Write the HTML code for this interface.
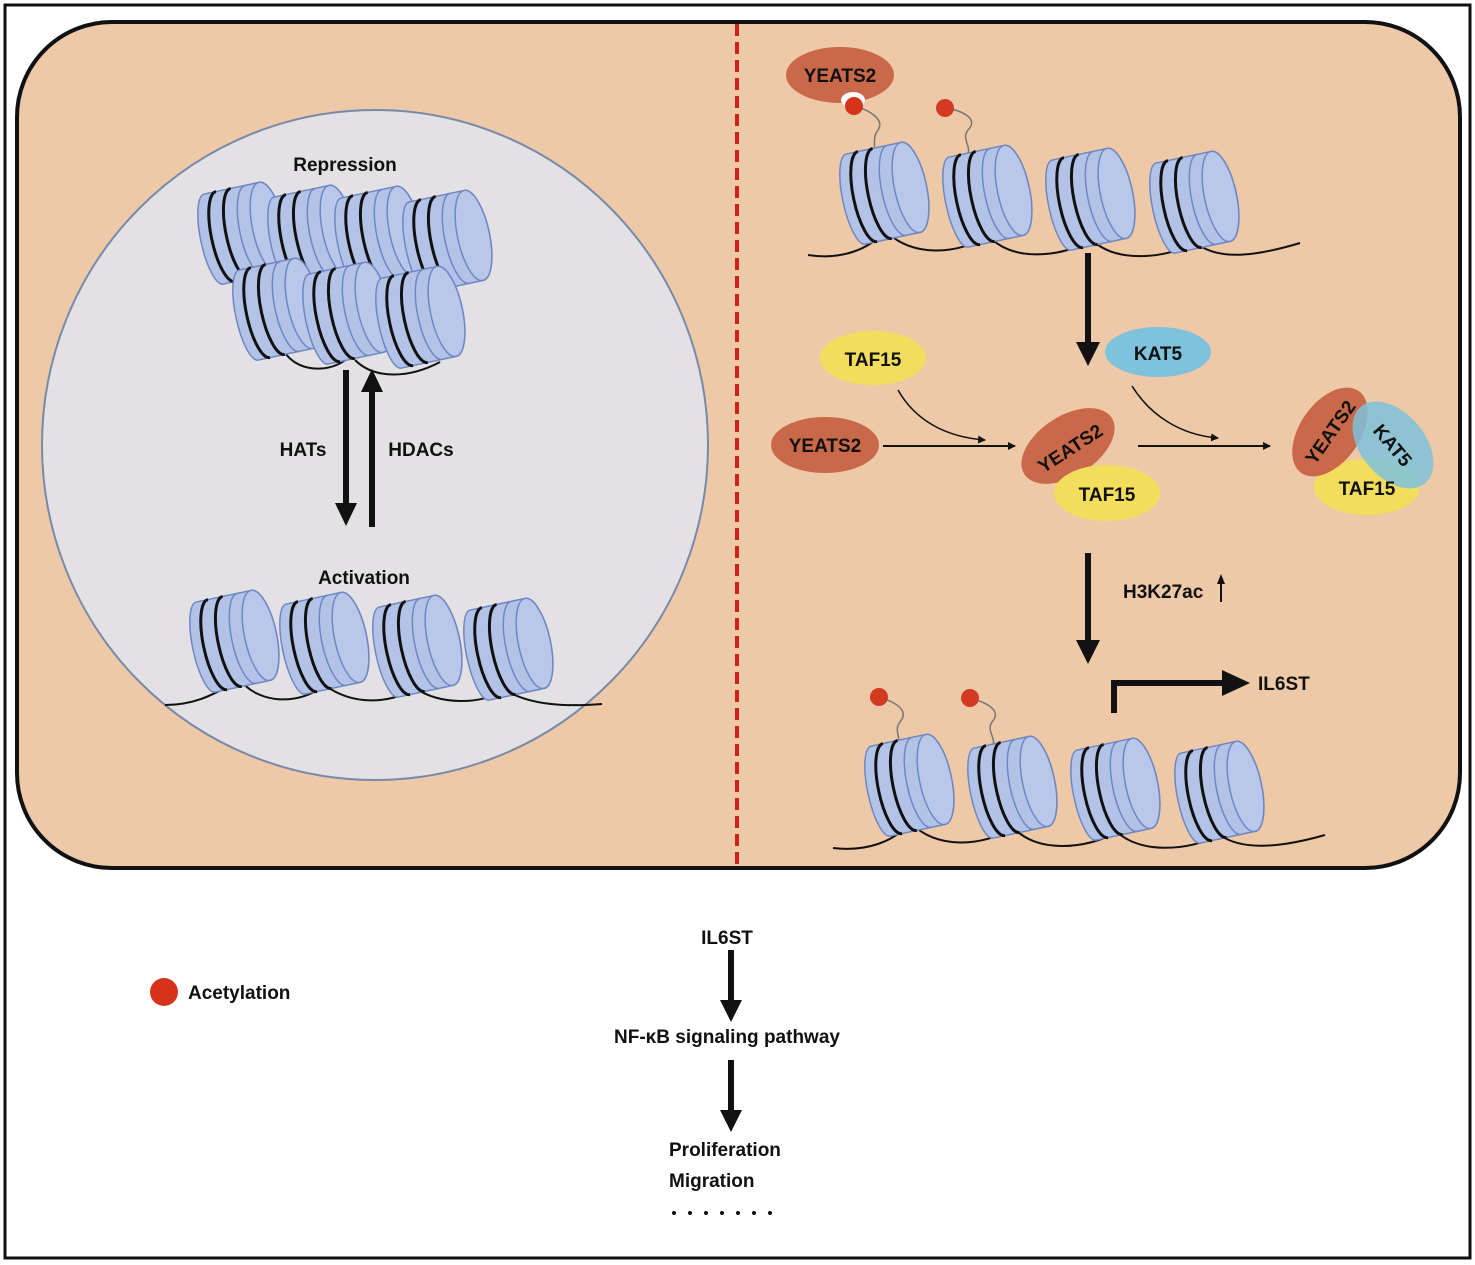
<!DOCTYPE html>
<html><head><meta charset="utf-8"><style>
html,body{margin:0;padding:0;background:#fff}
svg{display:block}
text{font-family:"Liberation Sans",sans-serif;font-weight:bold;fill:#111}
</style></head><body>
<svg width="1475" height="1265" viewBox="0 0 1475 1265" xmlns="http://www.w3.org/2000/svg">
<defs>
<g id="nuc">
  <g transform="rotate(-12)">
    <path d="M-34,-46 L22,-46 A16,46 0 0 1 22,46 L-34,46 A13,46 0 0 1 -34,-46 Z" fill="#b3c3e8" stroke="#6e86c2" stroke-width="1.5"/>
    <ellipse cx="22" cy="0" rx="16" ry="46" fill="#b8c7ea" stroke="#6e86c2" stroke-width="1.5"/>
    <path d="M8,-46 A15,46 0 0 0 8,46" fill="none" stroke="#6e86c2" stroke-width="1.5"/>
    <path d="M-22,-46 A14,46 0 0 0 -22,46" fill="none" stroke="#111" stroke-width="3"/>
    <path d="M-7,-46 A14,46 0 0 0 -7,46" fill="none" stroke="#111" stroke-width="3"/>
  </g>
</g>
<marker id="ah" markerWidth="8" markerHeight="8" refX="7" refY="4" orient="auto" markerUnits="userSpaceOnUse"><path d="M0,0 L8,4 L0,8 Z" fill="#111"/></marker>
</defs>
<rect x="5" y="5" width="1465" height="1253" fill="#fff" stroke="#111" stroke-width="3"/>
<rect x="17" y="22" width="1443" height="846" rx="95" fill="#edc9a8" stroke="#111" stroke-width="4"/>
<line x1="737" y1="24" x2="737" y2="866" stroke="#d0201c" stroke-width="4" stroke-dasharray="12,6"/>
<ellipse cx="375" cy="445" rx="333" ry="335" fill="#e3e1e3" stroke="#7889aa" stroke-width="2"/>

<text x="345" y="171" font-size="19" text-anchor="middle">Repression</text>
<path d="M283,350 C300,378 340,370 350,355 M355,360 C375,380 410,378 440,362" fill="none" stroke="#111" stroke-width="2"/>
<use href="#nuc" x="247" y="232"/>
<use href="#nuc" x="317" y="235"/>
<use href="#nuc" x="384" y="236"/>
<use href="#nuc" x="452" y="240"/>
<use href="#nuc" x="282" y="308"/>
<use href="#nuc" x="352" y="312"/>
<use href="#nuc" x="425" y="316"/>

<line x1="346" y1="370" x2="346" y2="505" stroke="#111" stroke-width="6"/>
<path d="M335,503 L357,503 L346,526 Z" fill="#111"/>
<line x1="372" y1="527" x2="372" y2="390" stroke="#111" stroke-width="6"/>
<path d="M361,392 L383,392 L372,369 Z" fill="#111"/>
<text x="303" y="456" font-size="19" text-anchor="middle">HATs</text>
<text x="421" y="456" font-size="19" text-anchor="middle">HDACs</text>

<text x="364" y="584" font-size="19" text-anchor="middle">Activation</text>
<path d="M165,705 C200,705 220,690 240,680 C260,705 300,705 325,685 C350,705 390,705 415,688 C440,705 480,705 505,690 C530,705 565,707 602,704" fill="none" stroke="#111" stroke-width="2"/>
<use href="#nuc" x="239" y="640"/>
<use href="#nuc" x="329" y="642"/>
<use href="#nuc" x="422" y="645"/>
<use href="#nuc" x="513" y="648"/>

<path d="M808,255 C840,260 870,250 885,230 C910,258 960,255 988,235 C1010,262 1060,258 1092,240 C1115,262 1160,260 1196,243 C1220,262 1260,255 1300,243" fill="none" stroke="#111" stroke-width="2"/>
<path d="M854,106 C870,110 885,120 878,130 C870,140 880,150 868,160" fill="none" stroke="#777" stroke-width="1.5"/>
<path d="M945,108 C960,110 980,118 968,130 C960,140 975,148 965,158" fill="none" stroke="#777" stroke-width="1.5"/>
<use href="#nuc" x="889" y="192"/>
<use href="#nuc" x="992" y="195"/>
<use href="#nuc" x="1095" y="198"/>
<use href="#nuc" x="1199" y="201"/>
<ellipse cx="840" cy="75" rx="54" ry="28" fill="#c9694a"/>
<text x="840" y="82" font-size="19" text-anchor="middle">YEATS2</text>
<ellipse cx="853" cy="100" rx="12" ry="8" fill="#fff"/>
<circle cx="854" cy="106" r="9" fill="#d7321a"/>
<circle cx="945" cy="108" r="9" fill="#d23a22"/>

<line x1="1088" y1="253" x2="1088" y2="345" stroke="#111" stroke-width="6"/>
<path d="M1076,342 L1100,342 L1088,366 Z" fill="#111"/>

<ellipse cx="873" cy="358" rx="53" ry="27" fill="#f2de5c"/>
<text x="873" y="366" font-size="19" text-anchor="middle">TAF15</text>
<ellipse cx="1158" cy="352" rx="53" ry="25" fill="#7ec2db"/>
<text x="1158" y="360" font-size="19" text-anchor="middle">KAT5</text>

<ellipse cx="825" cy="445" rx="54" ry="28" fill="#c9694a"/>
<text x="825" y="452" font-size="19" text-anchor="middle">YEATS2</text>
<line x1="883" y1="446" x2="1015" y2="446" stroke="#111" stroke-width="2" marker-end="url(#ah)"/>
<path d="M898,390 C915,420 945,437 985,440" fill="none" stroke="#111" stroke-width="1.5" marker-end="url(#ah)"/>
<line x1="1138" y1="446" x2="1270" y2="446" stroke="#111" stroke-width="2" marker-end="url(#ah)"/>
<path d="M1132,386 C1150,415 1180,435 1218,438" fill="none" stroke="#111" stroke-width="1.5" marker-end="url(#ah)"/>

<ellipse cx="1068" cy="446" rx="52" ry="30" fill="#c9694a" transform="rotate(-33 1068 446)"/>
<ellipse cx="1107" cy="493" rx="53" ry="28" fill="#f2de5c"/>
<text x="1107" y="501" font-size="19" text-anchor="middle">TAF15</text>
<text x="1070" y="448" font-size="19" text-anchor="middle" transform="rotate(-33 1070 448)" dy="7">YEATS2</text>

<ellipse cx="1367" cy="487" rx="53" ry="28" fill="#f2de5c"/>
<ellipse cx="1330" cy="432" rx="50" ry="30" fill="#c9694a" transform="rotate(-55 1330 432)"/>
<ellipse cx="1393" cy="445" rx="50" ry="32" fill="#7ec2db" fill-opacity="0.85" transform="rotate(50 1393 445)"/>
<text x="1367" y="495" font-size="19" text-anchor="middle">TAF15</text>
<text x="1330" y="439" font-size="19" text-anchor="middle" transform="rotate(-55 1330 432)">YEATS2</text>
<text x="1393" y="452" font-size="19" text-anchor="middle" transform="rotate(50 1393 445)">KAT5</text>

<line x1="1088" y1="553" x2="1088" y2="643" stroke="#111" stroke-width="6"/>
<path d="M1076,640 L1100,640 L1088,664 Z" fill="#111"/>
<text x="1123" y="598" font-size="19">H3K27ac</text>
<line x1="1221" y1="602" x2="1221" y2="582" stroke="#111" stroke-width="2"/>
<path d="M1217,584 L1225,584 L1221,574 Z" fill="#111"/>

<path d="M1114,713 L1114,683 L1225,683" fill="none" stroke="#111" stroke-width="6"/>
<path d="M1222,670 L1250,683 L1222,696 Z" fill="#111"/>
<text x="1258" y="690" font-size="19">IL6ST</text>

<path d="M833,848 C865,852 895,842 910,822 C935,850 985,847 1013,827 C1035,853 1085,850 1117,832 C1140,853 1185,852 1220,835 C1245,853 1290,845 1325,835" fill="none" stroke="#111" stroke-width="2"/>
<path d="M879,697 C895,702 910,710 900,722 C892,732 905,740 895,750" fill="none" stroke="#777" stroke-width="1.5"/>
<path d="M970,698 C985,702 1003,710 992,722 C985,732 1000,740 990,750" fill="none" stroke="#777" stroke-width="1.5"/>
<use href="#nuc" x="914" y="784"/>
<use href="#nuc" x="1017" y="786"/>
<use href="#nuc" x="1120" y="788"/>
<use href="#nuc" x="1224" y="791"/>
<circle cx="879" cy="697" r="9" fill="#d23a22"/>
<circle cx="970" cy="698" r="9" fill="#d23a22"/>

<circle cx="164" cy="992" r="14" fill="#d7321a"/>
<text x="188" y="999" font-size="19">Acetylation</text>

<text x="727" y="944" font-size="19" text-anchor="middle">IL6ST</text>
<line x1="731" y1="950" x2="731" y2="1003" stroke="#111" stroke-width="6"/>
<path d="M720,1000 L742,1000 L731,1022 Z" fill="#111"/>
<text x="727" y="1043" font-size="19" text-anchor="middle">NF-κB signaling pathway</text>
<line x1="731" y1="1060" x2="731" y2="1113" stroke="#111" stroke-width="6"/>
<path d="M720,1110 L742,1110 L731,1132 Z" fill="#111"/>
<text x="669" y="1156" font-size="19">Proliferation</text>
<text x="669" y="1187" font-size="19">Migration</text>
<g fill="#111"><circle cx="674" cy="1213" r="2"/><circle cx="690" cy="1213" r="2"/><circle cx="706" cy="1213" r="2"/><circle cx="722" cy="1213" r="2"/><circle cx="738" cy="1213" r="2"/><circle cx="754" cy="1213" r="2"/><circle cx="770" cy="1213" r="2"/></g>
</svg>
</body></html>
